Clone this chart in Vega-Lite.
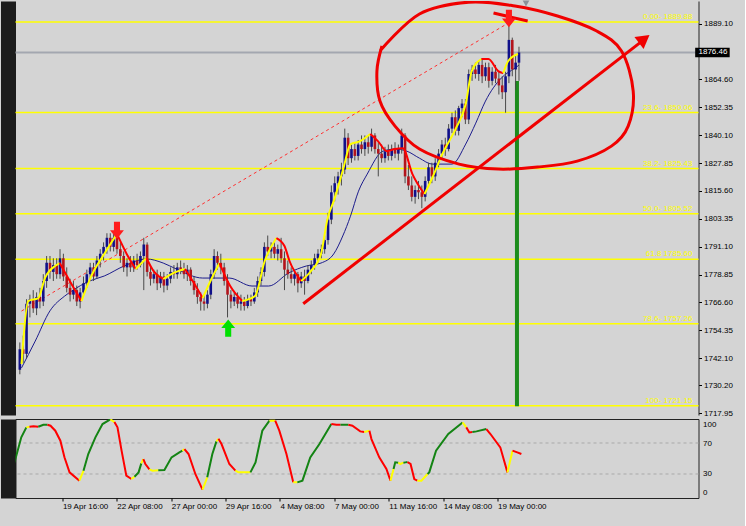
{
"$schema":"https://vega.github.io/schema/vega-lite/v6.json",
"background":"#d4d4d4",
"padding":{"left":7.5,"top":0,"right":12,"bottom":20},
"bounds":"flush",
"spacing":4,
"resolve":{"scale":{"color":"independent","shape":"independent"}},
"config":{"view":{"stroke":null},"font":"Liberation Sans","axis":{"labelFont":"Liberation Sans","labelFontSize":8,"labelColor":"#000000"}},
"datasets":{
"candles":[
{"i":2,"o":1737,"h":1749,"l":1735,"c":1746},{"i":3,"o":1746,"h":1752,"l":1740,"c":1744},{"i":4,"o":1744,"h":1768,"l":1742,"c":1766},{"i":5,"o":1766,"h":1770,"l":1760,"c":1768},{"i":6,"o":1768,"h":1772,"l":1762,"c":1764},{"i":7,"o":1764,"h":1771,"l":1761,"c":1769},{"i":8,"o":1769,"h":1773,"l":1764,"c":1767},{"i":9,"o":1767,"h":1779,"l":1765,"c":1776},{"i":10,"o":1776,"h":1787,"l":1773,"c":1784},{"i":11,"o":1784,"h":1787,"l":1777,"c":1780},{"i":12,"o":1780,"h":1786,"l":1776,"c":1783},{"i":13,"o":1783,"h":1786,"l":1777,"c":1779},{"i":14,"o":1779,"h":1790,"l":1777,"c":1786},{"i":15,"o":1786,"h":1788,"l":1776,"c":1778},{"i":16,"o":1778,"h":1782,"l":1771,"c":1773},{"i":17,"o":1773,"h":1777,"l":1767,"c":1770},{"i":18,"o":1770,"h":1776,"l":1768,"c":1772},{"i":19,"o":1772,"h":1774,"l":1765,"c":1767},{"i":20,"o":1767,"h":1773,"l":1764,"c":1771},{"i":21,"o":1771,"h":1778,"l":1769,"c":1775},{"i":22,"o":1775,"h":1781,"l":1773,"c":1779},{"i":23,"o":1779,"h":1784,"l":1776,"c":1782},{"i":24,"o":1782,"h":1784,"l":1776,"c":1778},{"i":25,"o":1778,"h":1787,"l":1777,"c":1785},{"i":26,"o":1785,"h":1790,"l":1782,"c":1788},{"i":27,"o":1788,"h":1793,"l":1785,"c":1791},{"i":28,"o":1791,"h":1797,"l":1788,"c":1795},{"i":29,"o":1795,"h":1797,"l":1789,"c":1791},{"i":30,"o":1791,"h":1797,"l":1789,"c":1795},{"i":31,"o":1795,"h":1796,"l":1788,"c":1790},{"i":32,"o":1790,"h":1793,"l":1784,"c":1787},{"i":33,"o":1787,"h":1789,"l":1780,"c":1782},{"i":34,"o":1782,"h":1786,"l":1778,"c":1784},{"i":35,"o":1784,"h":1787,"l":1780,"c":1782},{"i":36,"o":1782,"h":1787,"l":1780,"c":1785},{"i":37,"o":1785,"h":1788,"l":1781,"c":1783},{"i":38,"o":1783,"h":1789,"l":1782,"c":1787},{"i":39,"o":1787,"h":1795,"l":1772,"c":1792},{"i":40,"o":1792,"h":1793,"l":1778,"c":1780},{"i":41,"o":1780,"h":1783,"l":1774,"c":1777},{"i":42,"o":1777,"h":1781,"l":1775,"c":1779},{"i":43,"o":1779,"h":1781,"l":1772,"c":1775},{"i":44,"o":1775,"h":1780,"l":1773,"c":1778},{"i":45,"o":1778,"h":1780,"l":1771,"c":1774},{"i":46,"o":1774,"h":1779,"l":1772,"c":1777},{"i":47,"o":1777,"h":1782,"l":1775,"c":1780},{"i":48,"o":1780,"h":1783,"l":1777,"c":1779},{"i":49,"o":1779,"h":1784,"l":1777,"c":1782},{"i":50,"o":1782,"h":1785,"l":1779,"c":1781},{"i":51,"o":1781,"h":1784,"l":1777,"c":1779},{"i":52,"o":1779,"h":1783,"l":1776,"c":1781},{"i":53,"o":1781,"h":1782,"l":1774,"c":1776},{"i":54,"o":1776,"h":1778,"l":1770,"c":1772},{"i":55,"o":1772,"h":1775,"l":1766,"c":1769},{"i":56,"o":1769,"h":1771,"l":1763,"c":1767},{"i":57,"o":1767,"h":1770,"l":1763,"c":1766},{"i":58,"o":1766,"h":1772,"l":1764,"c":1770},{"i":59,"o":1770,"h":1781,"l":1768,"c":1779},{"i":60,"o":1779,"h":1790,"l":1777,"c":1787},{"i":61,"o":1787,"h":1789,"l":1781,"c":1784},{"i":62,"o":1784,"h":1788,"l":1779,"c":1782},{"i":63,"o":1782,"h":1784,"l":1774,"c":1776},{"i":64,"o":1776,"h":1779,"l":1760,"c":1770},{"i":65,"o":1770,"h":1772,"l":1764,"c":1767},{"i":66,"o":1767,"h":1771,"l":1765,"c":1769},{"i":67,"o":1769,"h":1771,"l":1764,"c":1766},{"i":68,"o":1766,"h":1770,"l":1763,"c":1767},{"i":69,"o":1767,"h":1769,"l":1763,"c":1765},{"i":70,"o":1765,"h":1770,"l":1764,"c":1768},{"i":71,"o":1768,"h":1770,"l":1765,"c":1767},{"i":72,"o":1767,"h":1773,"l":1766,"c":1771},{"i":73,"o":1771,"h":1778,"l":1769,"c":1776},{"i":74,"o":1776,"h":1782,"l":1774,"c":1780},{"i":75,"o":1780,"h":1793,"l":1778,"c":1791},{"i":76,"o":1791,"h":1796,"l":1787,"c":1789},{"i":77,"o":1789,"h":1793,"l":1786,"c":1791},{"i":78,"o":1791,"h":1794,"l":1786,"c":1788},{"i":79,"o":1788,"h":1792,"l":1785,"c":1790},{"i":80,"o":1790,"h":1795,"l":1784,"c":1786},{"i":81,"o":1786,"h":1789,"l":1772,"c":1781},{"i":82,"o":1781,"h":1785,"l":1777,"c":1779},{"i":83,"o":1779,"h":1782,"l":1775,"c":1777},{"i":84,"o":1777,"h":1781,"l":1774,"c":1779},{"i":85,"o":1779,"h":1780,"l":1771,"c":1775},{"i":86,"o":1775,"h":1780,"l":1773,"c":1778},{"i":87,"o":1778,"h":1781,"l":1770,"c":1776},{"i":88,"o":1776,"h":1783,"l":1775,"c":1781},{"i":89,"o":1781,"h":1785,"l":1779,"c":1783},{"i":90,"o":1783,"h":1788,"l":1781,"c":1786},{"i":91,"o":1786,"h":1790,"l":1784,"c":1788},{"i":92,"o":1788,"h":1792,"l":1786,"c":1790},{"i":93,"o":1790,"h":1796,"l":1788,"c":1794},{"i":94,"o":1794,"h":1806,"l":1792,"c":1803},{"i":95,"o":1803,"h":1818,"l":1801,"c":1815},{"i":96,"o":1815,"h":1822,"l":1811,"c":1819},{"i":97,"o":1819,"h":1824,"l":1814,"c":1822},{"i":98,"o":1822,"h":1828,"l":1818,"c":1825},{"i":99,"o":1825,"h":1843,"l":1823,"c":1839},{"i":100,"o":1839,"h":1841,"l":1827,"c":1830},{"i":101,"o":1830,"h":1836,"l":1828,"c":1834},{"i":102,"o":1834,"h":1837,"l":1829,"c":1831},{"i":103,"o":1831,"h":1838,"l":1829,"c":1836},{"i":104,"o":1836,"h":1840,"l":1832,"c":1834},{"i":105,"o":1834,"h":1840,"l":1831,"c":1837},{"i":106,"o":1837,"h":1840,"l":1832,"c":1835},{"i":107,"o":1835,"h":1843,"l":1833,"c":1840},{"i":108,"o":1840,"h":1841,"l":1832,"c":1834},{"i":109,"o":1834,"h":1837,"l":1822,"c":1832},{"i":110,"o":1832,"h":1836,"l":1828,"c":1830},{"i":111,"o":1830,"h":1835,"l":1828,"c":1833},{"i":112,"o":1833,"h":1836,"l":1829,"c":1831},{"i":113,"o":1831,"h":1836,"l":1829,"c":1834},{"i":114,"o":1834,"h":1837,"l":1830,"c":1832},{"i":115,"o":1832,"h":1836,"l":1829,"c":1834},{"i":116,"o":1834,"h":1843,"l":1832,"c":1840},{"i":117,"o":1840,"h":1841,"l":1819,"c":1822},{"i":118,"o":1822,"h":1827,"l":1816,"c":1818},{"i":119,"o":1818,"h":1822,"l":1811,"c":1813},{"i":120,"o":1813,"h":1818,"l":1810,"c":1816},{"i":121,"o":1816,"h":1820,"l":1812,"c":1815},{"i":122,"o":1815,"h":1818,"l":1808,"c":1813},{"i":123,"o":1813,"h":1822,"l":1811,"c":1820},{"i":124,"o":1820,"h":1828,"l":1818,"c":1826},{"i":125,"o":1826,"h":1828,"l":1819,"c":1822},{"i":126,"o":1822,"h":1830,"l":1820,"c":1828},{"i":127,"o":1828,"h":1834,"l":1826,"c":1832},{"i":128,"o":1832,"h":1838,"l":1830,"c":1836},{"i":129,"o":1836,"h":1839,"l":1831,"c":1834},{"i":130,"o":1834,"h":1845,"l":1833,"c":1843},{"i":131,"o":1843,"h":1850,"l":1841,"c":1848},{"i":132,"o":1848,"h":1851,"l":1840,"c":1842},{"i":133,"o":1842,"h":1853,"l":1840,"c":1852},{"i":134,"o":1852,"h":1856,"l":1848,"c":1854},{"i":135,"o":1854,"h":1856,"l":1845,"c":1847},{"i":136,"o":1847,"h":1869,"l":1845,"c":1867},{"i":137,"o":1867,"h":1871,"l":1864,"c":1869},{"i":138,"o":1869,"h":1872,"l":1865,"c":1867},{"i":139,"o":1867,"h":1873,"l":1864,"c":1871},{"i":140,"o":1871,"h":1874,"l":1863,"c":1866},{"i":141,"o":1866,"h":1872,"l":1864,"c":1870},{"i":142,"o":1870,"h":1872,"l":1861,"c":1864},{"i":143,"o":1864,"h":1870,"l":1862,"c":1868},{"i":144,"o":1868,"h":1871,"l":1863,"c":1865},{"i":145,"o":1865,"h":1868,"l":1858,"c":1862},{"i":146,"o":1862,"h":1866,"l":1856,"c":1859},{"i":147,"o":1859,"h":1868,"l":1850,"c":1866},{"i":148,"o":1866,"h":1889,"l":1863,"c":1882},{"i":149,"o":1882,"h":1883,"l":1866,"c":1869},{"i":150,"o":1869,"h":1875,"l":1860,"c":1872},{"i":151,"o":1872,"h":1879,"l":1864,"c":1876.46}
],
"fast":[
{"i":2.5,"p":1739.5,"s":1,"c":"y"},{"i":4.5,"p":1767.2,"s":1,"c":"y"},{"i":7.5,"p":1768.5,"s":1,"c":"y"},{"i":9.5,"p":1777.3,"s":1,"c":"y"},{"i":12.5,"p":1782.6,"s":1,"c":"y"},{"i":13.9,"p":1783.9,"s":1,"c":"y"},
{"i":13.9,"p":1783.9,"s":2,"c":"r"},{"i":16.9,"p":1776.0,"s":2,"c":"r"},{"i":20.4,"p":1767.2,"s":2,"c":"r"},
{"i":20.4,"p":1767.2,"s":3,"c":"y"},{"i":23.6,"p":1779.0,"s":3,"c":"y"},{"i":27.2,"p":1787.9,"s":3,"c":"y"},{"i":31.0,"p":1796.7,"s":3,"c":"y"},
{"i":31.0,"p":1796.7,"s":4,"c":"r"},{"i":33.9,"p":1787.9,"s":4,"c":"r"},{"i":36.6,"p":1781.3,"s":4,"c":"r"},
{"i":36.6,"p":1781.3,"s":5,"c":"y"},{"i":39.8,"p":1786.1,"s":5,"c":"y"},
{"i":39.8,"p":1786.1,"s":6,"c":"r"},{"i":41.9,"p":1780.4,"s":6,"c":"r"},{"i":44.8,"p":1776.9,"s":6,"c":"r"},
{"i":44.8,"p":1776.9,"s":7,"c":"y"},{"i":47.8,"p":1779.5,"s":7,"c":"y"},{"i":51.3,"p":1781.3,"s":7,"c":"y"},
{"i":51.3,"p":1781.3,"s":8,"c":"r"},{"i":53.6,"p":1776.0,"s":8,"c":"r"},{"i":56.6,"p":1768.5,"s":8,"c":"r"},
{"i":56.6,"p":1768.5,"s":9,"c":"y"},{"i":58.9,"p":1776.0,"s":9,"c":"y"},{"i":61.6,"p":1783.9,"s":9,"c":"y"},
{"i":61.6,"p":1783.9,"s":10,"c":"r"},{"i":64.8,"p":1773.8,"s":10,"c":"r"},{"i":68.4,"p":1767.2,"s":10,"c":"r"},
{"i":68.4,"p":1767.2,"s":11,"c":"y"},{"i":72.2,"p":1769.4,"s":11,"c":"y"},{"i":75.1,"p":1784.8,"s":11,"c":"y"},{"i":78.6,"p":1794.9,"s":11,"c":"y"},
{"i":78.6,"p":1794.9,"s":12,"c":"r"},{"i":81.0,"p":1791.4,"s":12,"c":"r"},{"i":82.5,"p":1784.8,"s":12,"c":"r"},{"i":86.0,"p":1776.0,"s":12,"c":"r"},
{"i":86.0,"p":1776.0,"s":13,"c":"y"},{"i":88.9,"p":1780.4,"s":13,"c":"y"},{"i":91.9,"p":1787.9,"s":13,"c":"y"},{"i":93.9,"p":1803.7,"s":13,"c":"y"},{"i":95.7,"p":1811.1,"s":13,"c":"y"},{"i":98.6,"p":1825.6,"s":13,"c":"y"},{"i":100.7,"p":1836.2,"s":13,"c":"y"},{"i":103.6,"p":1837.5,"s":13,"c":"y"},{"i":106.6,"p":1840.6,"s":13,"c":"y"},
{"i":106.6,"p":1840.6,"s":14,"c":"r"},{"i":108.9,"p":1837.5,"s":14,"c":"r"},{"i":111.6,"p":1833.1,"s":14,"c":"r"},{"i":113.9,"p":1834.0,"s":14,"c":"r"},{"i":116.3,"p":1834.4,"s":14,"c":"r"},{"i":119.2,"p":1823.0,"s":14,"c":"r"},{"i":122.8,"p":1814.2,"s":14,"c":"r"},
{"i":122.8,"p":1814.2,"s":15,"c":"y"},{"i":125.1,"p":1821.3,"s":15,"c":"y"},{"i":128.1,"p":1831.8,"s":15,"c":"y"},{"i":132.2,"p":1843.2,"s":15,"c":"y"},{"i":135.1,"p":1853.8,"s":15,"c":"y"},{"i":136.9,"p":1868.3,"s":15,"c":"y"},{"i":139.8,"p":1873.6,"s":15,"c":"y"},
{"i":139.8,"p":1873.6,"s":16,"c":"r"},{"i":141.9,"p":1873.6,"s":16,"c":"r"},{"i":144.8,"p":1868.3,"s":16,"c":"r"},{"i":146.3,"p":1867.4,"s":16,"c":"r"},
{"i":146.3,"p":1867.4,"s":17,"c":"y"},{"i":147.8,"p":1872.7,"s":17,"c":"y"},{"i":150.7,"p":1875.8,"s":17,"c":"y"}
],
"slow":[
{"i":2.5,"p":1737.8},{"i":6.6,"p":1749.6},{"i":11.0,"p":1762.9},{"i":15.4,"p":1769.4},{"i":17.5,"p":1771.6},{"i":22.8,"p":1776.0},{"i":27.2,"p":1778.2},{"i":33.1,"p":1782.6},{"i":39.8,"p":1785.7},{"i":44.8,"p":1783.9},{"i":48.7,"p":1781.3},{"i":56.6,"p":1777.3},{"i":64.5,"p":1777.3},{"i":71.3,"p":1773.8},{"i":76.3,"p":1773.8},{"i":82.2,"p":1779.5},{"i":87.5,"p":1782.6},{"i":91.9,"p":1783.9},{"i":95.7,"p":1787.9},{"i":98.4,"p":1795.8},{"i":100.7,"p":1804.5},{"i":103.1,"p":1815.5},{"i":105.7,"p":1823.0},{"i":110.4,"p":1833.1},{"i":113.9,"p":1834.0},{"i":117.5,"p":1833.1},{"i":121.3,"p":1830.0},{"i":125.1,"p":1827.4},{"i":131.0,"p":1827.4},{"i":135.1,"p":1836.2},{"i":138.1,"p":1845.4},{"i":141.0,"p":1855.1},{"i":145.7,"p":1865.2},{"i":149.8,"p":1869.6},{"i":151.0,"p":1870.9}
],
"fib":[
{"p":1889.88,"t":"0.00- 1889.88"},{"p":1850.06,"t":"23.6- 1850.06"},{"p":1825.43,"t":"38.2- 1825.43"},{"p":1805.52,"t":"50.0- 1805.52"},{"p":1785.60,"t":"61.8 1785.60"},{"p":1757.26,"t":"78.6- 1757.26"},{"p":1721.15,"t":"100- 1721.15"}
],
"hand":[
{"s":"e","k":1,"i":109.5,"p":1877.1},{"s":"e","k":2,"i":121.3,"p":1893.4},{"s":"e","k":3,"i":136.0,"p":1898.6},{"s":"e","k":4,"i":149.8,"p":1896.9},{"s":"e","k":5,"i":162.5,"p":1892.5},{"s":"e","k":6,"i":174.2,"p":1885.9},{"s":"e","k":7,"i":181.6,"p":1877.1},{"s":"e","k":8,"i":185.1,"p":1859.5},{"s":"e","k":9,"i":183.6,"p":1844.1},{"s":"e","k":10,"i":178.6,"p":1835.3},{"s":"e","k":11,"i":168.4,"p":1828.7},{"s":"e","k":12,"i":156.6,"p":1826.1},{"s":"e","k":13,"i":144.8,"p":1825.2},{"s":"e","k":14,"i":133.1,"p":1827.4},{"s":"e","k":15,"i":121.3,"p":1834.0},{"s":"e","k":16,"i":114.0,"p":1844.1},{"s":"e","k":17,"i":109.5,"p":1855.1},{"s":"e","k":18,"i":108.6,"p":1868.3},{"s":"e","k":19,"i":110.1,"p":1879.3},
{"s":"c","k":1,"i":143.4,"p":1893.8},{"s":"c","k":2,"i":153.6,"p":1890.3},
{"s":"a","k":1,"i":86.6,"p":1766.0},{"s":"a","k":2,"i":188.9,"p":1882.8}
],
"dash":[{"i":2.5,"p":1762.8},{"i":147.8,"p":1889.4}],
"fractals":[{"i":31.0,"p":1798.3,"k":"dn"},{"i":148.0,"p":1891.4,"k":"dn"},{"i":64.2,"p":1755.3,"k":"up"}],
"osc":[
{"i":1.9,"v":45.0,"s":1,"c":"g"},{"i":3.9,"v":77.3,"s":1,"c":"g"},{"i":5.4,"v":90.2,"s":1,"c":"g"},
{"i":5.4,"v":90.2,"s":2,"c":"y"},{"i":6.3,"v":91.0,"s":2,"c":"y"},
{"i":6.3,"v":91.0,"s":3,"c":"r"},{"i":7.5,"v":91.5,"s":3,"c":"r"},{"i":8.9,"v":91.0,"s":3,"c":"r"},
{"i":8.9,"v":91.0,"s":4,"c":"g"},{"i":10.4,"v":93.6,"s":4,"c":"g"},{"i":11.6,"v":93.6,"s":4,"c":"g"},
{"i":11.6,"v":93.6,"s":5,"c":"r"},{"i":12.5,"v":92.3,"s":5,"c":"r"},{"i":13.9,"v":85.9,"s":5,"c":"r"},{"i":15.4,"v":73.0,"s":5,"c":"r"},{"i":16.6,"v":51.5,"s":5,"c":"r"},{"i":18.1,"v":32.1,"s":5,"c":"r"},{"i":21.0,"v":21.4,"s":5,"c":"r"},
{"i":21.0,"v":21.4,"s":6,"c":"y"},{"i":22.2,"v":34.3,"s":6,"c":"y"},
{"i":22.2,"v":34.3,"s":7,"c":"g"},{"i":23.6,"v":55.8,"s":7,"c":"g"},{"i":25.7,"v":77.3,"s":7,"c":"g"},{"i":27.8,"v":94.5,"s":7,"c":"g"},{"i":30.1,"v":100.5,"s":7,"c":"g"},
{"i":30.1,"v":100.5,"s":8,"c":"y"},{"i":31.3,"v":97.0,"s":8,"c":"y"},
{"i":31.3,"v":97.0,"s":9,"c":"r"},{"i":32.2,"v":90.2,"s":9,"c":"r"},{"i":33.4,"v":60.1,"s":9,"c":"r"},{"i":34.8,"v":27.8,"s":9,"c":"r"},{"i":36.3,"v":23.5,"s":9,"c":"r"},
{"i":36.3,"v":23.5,"s":10,"c":"y"},{"i":37.2,"v":26.5,"s":10,"c":"y"},
{"i":37.2,"v":26.5,"s":11,"c":"g"},{"i":38.4,"v":32.1,"s":11,"c":"g"},{"i":39.2,"v":43.7,"s":11,"c":"g"},
{"i":39.2,"v":43.7,"s":12,"c":"y"},{"i":39.8,"v":49.3,"s":12,"c":"y"},
{"i":39.8,"v":49.3,"s":13,"c":"r"},{"i":40.4,"v":42.9,"s":13,"c":"r"},{"i":41.6,"v":36.0,"s":13,"c":"r"},
{"i":41.6,"v":36.0,"s":14,"c":"y"},{"i":42.5,"v":34.3,"s":14,"c":"y"},{"i":44.2,"v":34.7,"s":14,"c":"y"},
{"i":44.2,"v":34.7,"s":15,"c":"g"},{"i":46.0,"v":35.1,"s":15,"c":"g"},{"i":48.1,"v":51.5,"s":15,"c":"g"},{"i":50.4,"v":57.9,"s":15,"c":"g"},{"i":51.3,"v":60.1,"s":15,"c":"g"},
{"i":51.3,"v":60.1,"s":16,"c":"y"},{"i":51.9,"v":62.2,"s":16,"c":"y"},
{"i":51.9,"v":62.2,"s":17,"c":"r"},{"i":53.1,"v":55.8,"s":17,"c":"r"},{"i":55.1,"v":30.0,"s":17,"c":"r"},{"i":57.2,"v":9.8,"s":17,"c":"r"},
{"i":57.2,"v":9.8,"s":18,"c":"y"},{"i":58.6,"v":25.7,"s":18,"c":"y"},
{"i":58.6,"v":25.7,"s":19,"c":"g"},{"i":60.1,"v":55.8,"s":19,"c":"g"},{"i":61.3,"v":72.1,"s":19,"c":"g"},
{"i":61.3,"v":72.1,"s":20,"c":"y"},{"i":61.9,"v":75.5,"s":20,"c":"y"},
{"i":61.9,"v":75.5,"s":21,"c":"r"},{"i":62.8,"v":68.7,"s":21,"c":"r"},{"i":65.1,"v":42.9,"s":21,"c":"r"},{"i":66.9,"v":34.3,"s":21,"c":"r"},
{"i":66.9,"v":34.3,"s":22,"c":"y"},{"i":67.8,"v":32.1,"s":22,"c":"y"},{"i":71.3,"v":32.1,"s":22,"c":"y"},
{"i":71.3,"v":32.1,"s":23,"c":"g"},{"i":72.8,"v":45.0,"s":23,"c":"g"},{"i":74.8,"v":85.9,"s":23,"c":"g"},{"i":76.9,"v":98.8,"s":23,"c":"g"},
{"i":76.9,"v":98.8,"s":24,"c":"y"},{"i":78.6,"v":98.8,"s":24,"c":"y"},
{"i":78.6,"v":98.8,"s":25,"c":"r"},{"i":79.8,"v":85.9,"s":25,"c":"r"},{"i":81.9,"v":55.8,"s":25,"c":"r"},{"i":83.9,"v":19.2,"s":25,"c":"r"},
{"i":83.9,"v":19.2,"s":26,"c":"y"},{"i":85.1,"v":19.2,"s":26,"c":"y"},
{"i":85.1,"v":19.2,"s":27,"c":"g"},{"i":86.6,"v":21.4,"s":27,"c":"g"},{"i":88.9,"v":51.5,"s":27,"c":"g"},{"i":91.6,"v":68.7,"s":27,"c":"g"},{"i":95.1,"v":94.5,"s":27,"c":"g"},
{"i":95.1,"v":94.5,"s":28,"c":"r"},{"i":96.6,"v":93.6,"s":28,"c":"r"},{"i":97.8,"v":93.6,"s":28,"c":"r"},
{"i":97.8,"v":93.6,"s":29,"c":"g"},{"i":99.2,"v":93.6,"s":29,"c":"g"},{"i":100.1,"v":93.6,"s":29,"c":"g"},
{"i":100.1,"v":93.6,"s":30,"c":"r"},{"i":101.3,"v":92.3,"s":30,"c":"r"},{"i":103.6,"v":85.0,"s":30,"c":"r"},{"i":104.8,"v":84.1,"s":30,"c":"r"},
{"i":104.8,"v":84.1,"s":31,"c":"y"},{"i":106.3,"v":85.9,"s":31,"c":"y"},
{"i":106.3,"v":85.9,"s":32,"c":"r"},{"i":106.9,"v":75.1,"s":32,"c":"r"},{"i":109.2,"v":51.5,"s":32,"c":"r"},{"i":111.3,"v":36.4,"s":32,"c":"r"},{"i":112.5,"v":21.4,"s":32,"c":"r"},
{"i":112.5,"v":21.4,"s":33,"c":"y"},{"i":113.4,"v":36.4,"s":33,"c":"y"},
{"i":113.4,"v":36.4,"s":34,"c":"g"},{"i":113.9,"v":45.0,"s":34,"c":"g"},{"i":114.8,"v":44.6,"s":34,"c":"g"},
{"i":114.8,"v":44.6,"s":35,"c":"y"},{"i":115.4,"v":42.9,"s":35,"c":"y"},{"i":116.3,"v":44.6,"s":35,"c":"y"},
{"i":116.3,"v":44.6,"s":36,"c":"g"},{"i":116.9,"v":45.0,"s":36,"c":"g"},{"i":117.5,"v":45.4,"s":36,"c":"g"},
{"i":117.5,"v":45.4,"s":37,"c":"r"},{"i":118.4,"v":42.9,"s":37,"c":"r"},{"i":119.5,"v":23.5,"s":37,"c":"r"},{"i":120.4,"v":21.4,"s":37,"c":"r"},
{"i":120.4,"v":21.4,"s":38,"c":"y"},{"i":121.6,"v":21.4,"s":38,"c":"y"},{"i":123.4,"v":30.0,"s":38,"c":"y"},
{"i":123.4,"v":30.0,"s":39,"c":"g"},{"i":123.9,"v":32.1,"s":39,"c":"g"},{"i":125.9,"v":60.1,"s":39,"c":"g"},{"i":129.5,"v":81.6,"s":39,"c":"g"},{"i":133.7,"v":96.6,"s":39,"c":"g"},
{"i":133.7,"v":96.6,"s":40,"c":"y"},{"i":134.8,"v":90.2,"s":40,"c":"y"},
{"i":134.8,"v":90.2,"s":41,"c":"r"},{"i":135.7,"v":83.7,"s":41,"c":"r"},{"i":136.6,"v":84.1,"s":41,"c":"r"},
{"i":136.6,"v":84.1,"s":42,"c":"g"},{"i":137.8,"v":85.0,"s":42,"c":"g"},{"i":140.7,"v":88.0,"s":42,"c":"g"},
{"i":140.7,"v":88.0,"s":43,"c":"r"},{"i":141.9,"v":81.6,"s":43,"c":"r"},{"i":144.8,"v":64.4,"s":43,"c":"r"},{"i":146.9,"v":32.1,"s":43,"c":"r"},
{"i":146.9,"v":32.1,"s":44,"c":"y"},{"i":148.4,"v":60.1,"s":44,"c":"y"},
{"i":148.4,"v":60.1,"s":45,"c":"r"},{"i":149.8,"v":57.9,"s":45,"c":"r"},{"i":151.0,"v":55.8,"s":45,"c":"r"}
]
},
"vconcat":[
{
"width":683,"height":414,
"view":{"stroke":null},
"resolve":{"axis":{"y":"independent"},"scale":{"color":"independent","shape":"independent"}},
"layer":[
{"data":{"name":"fib"},"mark":{"type":"rule","color":"#ffff00","strokeWidth":1.5},
 "encoding":{"y":{"field":"p","type":"quantitative","scale":{"domain":[1717.1,1899.1],"nice":false,"zero":false},
  "axis":{"orient":"right","values":[1717.95,1730.20,1742.10,1754.35,1766.60,1778.85,1791.10,1803.35,1815.60,1827.85,1840.10,1852.35,1864.60,1889.10],"format":".2f","tickSize":3,"tickColor":"#000000","labelPadding":2,"domain":true,"domainColor":"#222222","grid":false,"title":null,"labelOverlap":false,"labelBound":false,"labelFlush":false}}}},
{"data":{"name":"fib"},"mark":{"type":"text","color":"#ffff00","fontSize":8,"align":"right","baseline":"bottom","dy":-1,"font":"Liberation Sans"},
 "encoding":{"x":{"datum":202.8,"type":"quantitative","scale":{"domain":[2.2,203.1],"nice":false,"zero":false},"axis":null},
  "y":{"field":"p","type":"quantitative","scale":{"domain":[1717.1,1899.1],"nice":false,"zero":false},"axis":null},
  "text":{"field":"t"}}},
{"data":{"values":[{"p":1876.46}]},"mark":{"type":"rule","color":"#a3a7b0","strokeWidth":2},
 "encoding":{"y":{"field":"p","type":"quantitative","scale":{"domain":[1717.1,1899.1],"nice":false,"zero":false},
  "axis":{"orient":"left","labels":false,"ticks":false,"grid":false,"title":null,"domain":true,"domainColor":"#1c1c1c","domainWidth":15,"offset":7.5}}}},
{"data":{"name":"dash"},"mark":{"type":"line","color":"#ff3030","strokeWidth":1,"strokeDash":[3,3]},
 "encoding":{"x":{"field":"i","type":"quantitative","scale":{"domain":[2.2,203.1],"nice":false,"zero":false},
  "axis":{"labels":false,"ticks":false,"grid":false,"title":null,"domain":true,"domainColor":"#222222"}},
  "y":{"field":"p","type":"quantitative","scale":{"domain":[1717.1,1899.1],"nice":false,"zero":false},"axis":null}}},
{"data":{"values":[{"i":150.4,"p":1863.9,"p2":1721.0}]},"mark":{"type":"rule","color":"#1c8c1c","strokeWidth":4},
 "encoding":{"x":{"field":"i","type":"quantitative","scale":{"domain":[2.2,203.1],"nice":false,"zero":false}},
  "y":{"field":"p","type":"quantitative","scale":{"domain":[1717.1,1899.1],"nice":false,"zero":false},"axis":null},"y2":{"field":"p2"}}},
{"data":{"name":"slow"},"mark":{"type":"line","color":"#1c1c8c","strokeWidth":1,"interpolate":"monotone"},
 "encoding":{"x":{"field":"i","type":"quantitative","scale":{"domain":[2.2,203.1],"nice":false,"zero":false}},
  "y":{"field":"p","type":"quantitative","scale":{"domain":[1717.1,1899.1],"nice":false,"zero":false},"axis":null}}},
{"data":{"name":"candles"},"mark":{"type":"rule","color":"#4a4a4a","strokeWidth":1},
 "encoding":{"x":{"field":"i","type":"quantitative","scale":{"domain":[2.2,203.1],"nice":false,"zero":false}},
  "y":{"field":"l","type":"quantitative","scale":{"domain":[1717.1,1899.1],"nice":false,"zero":false},"axis":null},"y2":{"field":"h"}}},
{"data":{"name":"candles"},"mark":{"type":"bar","size":2.6},
 "encoding":{"x":{"field":"i","type":"quantitative","scale":{"domain":[2.2,203.1],"nice":false,"zero":false}},
  "y":{"field":"o","type":"quantitative","scale":{"domain":[1717.1,1899.1],"nice":false,"zero":false},"axis":null},"y2":{"field":"c"},
  "color":{"condition":{"test":"datum.c >= datum.o","value":"#10108a"},"value":"#b3141c"}}},
{"data":{"name":"fast"},"mark":{"type":"line","strokeWidth":2,"interpolate":"monotone"},
 "encoding":{"x":{"field":"i","type":"quantitative","scale":{"domain":[2.2,203.1],"nice":false,"zero":false}},
  "y":{"field":"p","type":"quantitative","scale":{"domain":[1717.1,1899.1],"nice":false,"zero":false},"axis":null},
  "detail":{"field":"s"},
  "color":{"field":"c","type":"nominal","scale":{"domain":["y","r"],"range":["#ffff00","#ff0000"]},"legend":null}}},
{"data":{"name":"hand"},"mark":{"type":"line","color":"#f00000","strokeWidth":3,"interpolate":"cardinal","clip":true},
 "encoding":{"x":{"field":"i","type":"quantitative","scale":{"domain":[2.2,203.1],"nice":false,"zero":false}},
  "y":{"field":"p","type":"quantitative","scale":{"domain":[1717.1,1899.1],"nice":false,"zero":false},"axis":null},
  "detail":{"field":"s"},"order":{"field":"k"}}},
{"data":{"values":[{"i":188.4,"p":1882.4}]},"mark":{"type":"point","shape":"triangle-up","filled":true,"color":"#f00000","size":230,"angle":53,"opacity":1},
 "encoding":{"x":{"field":"i","type":"quantitative","scale":{"domain":[2.2,203.1],"nice":false,"zero":false}},
  "y":{"field":"p","type":"quantitative","scale":{"domain":[1717.1,1899.1],"nice":false,"zero":false},"axis":null}}},
{"data":{"name":"fractals"},"mark":{"type":"point","filled":true,"size":300,"opacity":1},
 "encoding":{"x":{"field":"i","type":"quantitative","scale":{"domain":[2.2,203.1],"nice":false,"zero":false}},
  "y":{"field":"p","type":"quantitative","scale":{"domain":[1717.1,1899.1],"nice":false,"zero":false},"axis":null},
  "shape":{"field":"k","type":"nominal","scale":{"domain":["dn","up"],"range":["M-0.35,-1L0.35,-1L0.35,0L0.8,0L0,1L-0.8,0L-0.35,0Z","M-0.35,1L0.35,1L0.35,0L0.8,0L0,-1L-0.8,0L-0.35,0Z"]},"legend":null},
  "color":{"field":"k","type":"nominal","scale":{"domain":["dn","up"],"range":["#ff1c1c","#00e000"]},"legend":null}}},
{"data":{"values":[{"i":153.1,"p":1898.0}]},"mark":{"type":"point","shape":"triangle-down","filled":true,"color":"#8a8f98","size":45,"opacity":1},
 "encoding":{"x":{"field":"i","type":"quantitative","scale":{"domain":[2.2,203.1],"nice":false,"zero":false}},
  "y":{"field":"p","type":"quantitative","scale":{"domain":[1717.1,1899.1],"nice":false,"zero":false},"axis":null}}},
{"data":{"values":[{"t":"1876.46"}]},"mark":{"type":"rect","color":"#000000"},
 "encoding":{"x":{"datum":203.6,"type":"quantitative","scale":{"domain":[2.2,203.1],"nice":false,"zero":false}},"x2":{"datum":213.9},
  "y":{"datum":1874.4,"type":"quantitative","scale":{"domain":[1717.1,1899.1],"nice":false,"zero":false},"axis":null},"y2":{"datum":1878.6}}},
{"data":{"values":[{"t":"1876.46"}]},"mark":{"type":"text","color":"#ffffff","fontSize":8,"align":"left","baseline":"middle","font":"Liberation Sans"},
 "encoding":{"x":{"datum":204.6,"type":"quantitative","scale":{"domain":[2.2,203.1],"nice":false,"zero":false}},
  "y":{"datum":1876.46,"type":"quantitative","scale":{"domain":[1717.1,1899.1],"nice":false,"zero":false},"axis":null},
  "text":{"field":"t"}}}
]
},
{
"width":683,"height":79,
"view":{"stroke":"#222222"},
"resolve":{"axis":{"y":"independent"}},
"layer":[
{"data":{"values":[{"v":30},{"v":70}]},"mark":{"type":"rule","color":"#a9a9a9","strokeWidth":1,"strokeDash":[3,3]},
 "encoding":{"y":{"field":"v","type":"quantitative","scale":{"domain":[-1,101],"nice":false,"zero":false},
  "axis":{"orient":"right","values":[0,30,70,100],"tickSize":0,"labelPadding":4,"domain":false,"grid":false,"title":null,"labelOverlap":false,"labelBound":false,"labelFlush":false,
   "labelOffset":{"condition":[{"test":"datum.value >= 100","value":5},{"test":"datum.value <= 0","value":-5}],"value":0}}}}},
{"data":{"name":"osc"},"mark":{"type":"line","strokeWidth":2,"clip":true},
 "encoding":{"x":{"field":"i","type":"quantitative","scale":{"domain":[2.2,203.1],"nice":false,"zero":false},
   "axis":{"values":[16,32,48,64,80,96,112,128,144],"labelExpr":"['15 Apr 00:00','19 Apr 16:00','22 Apr 08:00','27 Apr 00:00','29 Apr 16:00','4 May 08:00','7 May 00:00','11 May 16:00','14 May 08:00','19 May 00:00'][round(datum.value/16)]","labelAlign":"left","labelBaseline":"top","labelPadding":1,"tickSize":3,"tickColor":"#000000","domain":false,"grid":false,"title":null,"labelOverlap":false,"labelFlush":false,"labelBound":false}},
  "y":{"field":"v","type":"quantitative","scale":{"domain":[-1,101],"nice":false,"zero":false},
   "axis":{"orient":"left","labels":false,"ticks":false,"grid":false,"title":null,"domain":true,"domainColor":"#1c1c1c","domainWidth":15,"offset":7.5}},
  "detail":{"field":"s"},
  "color":{"field":"c","type":"nominal","scale":{"domain":["g","r","y"],"range":["#148414","#ff0000","#ffff00"]},"legend":null}}}
]
}
]
}
